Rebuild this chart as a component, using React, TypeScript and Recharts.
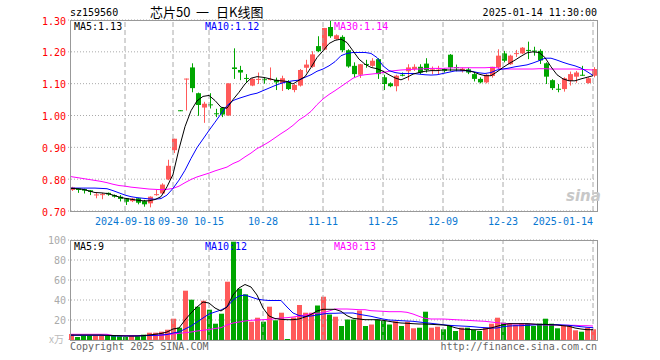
import { ComposedChart, Bar, Line, XAxis, YAxis, CartesianGrid, ReferenceLine, Cell } from "recharts";

const dates = [
  "2024-09-03", "2024-09-04", "2024-09-05", "2024-09-06", "2024-09-09", "2024-09-10", "2024-09-11", "2024-09-12", "2024-09-13",
  "2024-09-18", "2024-09-19", "2024-09-20", "2024-09-23", "2024-09-24", "2024-09-25", "2024-09-26", "2024-09-27", "2024-09-30",
  "2024-10-08", "2024-10-09", "2024-10-10", "2024-10-11", "2024-10-14", "2024-10-15",
  "2024-10-16", "2024-10-17", "2024-10-18", "2024-10-21", "2024-10-22", "2024-10-23", "2024-10-24", "2024-10-25", "2024-10-28",
  "2024-10-29", "2024-10-30", "2024-10-31", "2024-11-01", "2024-11-04", "2024-11-05", "2024-11-06", "2024-11-07", "2024-11-08", "2024-11-11",
  "2024-11-12", "2024-11-13", "2024-11-14", "2024-11-15", "2024-11-18", "2024-11-19", "2024-11-20", "2024-11-21", "2024-11-22", "2024-11-25",
  "2024-11-26", "2024-11-27", "2024-11-28", "2024-11-29", "2024-12-02", "2024-12-03", "2024-12-04", "2024-12-05", "2024-12-06", "2024-12-09",
  "2024-12-10", "2024-12-11", "2024-12-12", "2024-12-13", "2024-12-16", "2024-12-17", "2024-12-18", "2024-12-19", "2024-12-20", "2024-12-23",
  "2024-12-24", "2024-12-25", "2024-12-26", "2024-12-27", "2024-12-30", "2024-12-31", "2025-01-02", "2025-01-03", "2025-01-06", "2025-01-07",
  "2025-01-08", "2025-01-09", "2025-01-10", "2025-01-13", "2025-01-14",
];

const tickDates = ["2024-09-18", "2024-09-30", "2024-10-15", "2024-10-28", "2024-11-11", "2024-11-25", "2024-12-09", "2024-12-23", "2025-01-14"];
const priceTicks = [0.7, 0.8, 0.9, 1.0, 1.1, 1.2, 1.3];
const volTicks = [20, 40, 60, 80, 100];

const openPx = [
  0.766, 0.771, 0.769, 0.765, 0.751, 0.752, 0.757, 0.750, 0.745, 0.740,
  0.731, 0.740, 0.731, 0.724, 0.752, 0.755, 0.799, 0.891, 1.0165, 1.114,
  1.151, 1.070, 1.025, 1.035, 1.007, 1.024, 1.000, 1.151, 1.143, 1.118,
  1.094, 1.114, 1.114, 1.114, 1.112, 1.102, 1.106, 1.080, 1.094, 1.150,
  1.153, 1.218, 1.207, 1.278, 1.240, 1.247, 1.205, 1.156, 1.128, 1.162,
  1.156, 1.177, 1.120, 1.101, 1.092, 1.128, 1.139, 1.146, 1.153, 1.163,
  1.146, 1.145, 1.146, 1.191, 1.152, 1.140, 1.145, 1.130, 1.115, 1.104,
  1.124, 1.151, 1.195, 1.161, 1.195, 1.195, 1.206, 1.204, 1.203, 1.164,
  1.111, 1.084, 1.083, 1.109, 1.122, 1.128, 1.102, 1.125,
];
const closePx = [
  0.774, 0.766, 0.764, 0.760, 0.752, 0.753, 0.752, 0.745, 0.738, 0.729,
  0.739, 0.726, 0.721, 0.745, 0.753, 0.783, 0.842, 0.927, 1.016, 1.116,
  1.086, 1.033, 1.037, 1.033, 1.005, 1.003, 1.101, 1.146, 1.135, 1.117,
  1.115, 1.115, 1.113, 1.115, 1.104, 1.117, 1.083, 1.096, 1.143, 1.160,
  1.192, 1.202, 1.275, 1.249, 1.252, 1.205, 1.154, 1.130, 1.161, 1.161,
  1.172, 1.130, 1.099, 1.092, 1.125, 1.127, 1.151, 1.153, 1.135, 1.143,
  1.147, 1.149, 1.140, 1.151, 1.151, 1.147, 1.135, 1.115, 1.104, 1.128,
  1.153, 1.188, 1.172, 1.188, 1.196, 1.213, 1.205, 1.203, 1.173, 1.122,
  1.086, 1.083, 1.117, 1.130, 1.135, 1.127, 1.117, 1.146,
];
const highPx = [
  0.776, 0.772, 0.770, 0.766, 0.757, 0.757, 0.758, 0.752, 0.750, 0.741,
  0.741, 0.741, 0.735, 0.746, 0.766, 0.787, 0.861, 0.927, 1.017, 1.116,
  1.164, 1.072, 1.043, 1.070, 1.021, 1.026, 1.101, 1.211, 1.156, 1.130,
  1.117, 1.135, 1.120, 1.151, 1.119, 1.125, 1.111, 1.099, 1.146, 1.175,
  1.202, 1.249, 1.275, 1.301, 1.255, 1.252, 1.208, 1.167, 1.162, 1.175,
  1.180, 1.180, 1.128, 1.104, 1.128, 1.135, 1.161, 1.161, 1.161, 1.180,
  1.154, 1.156, 1.148, 1.193, 1.160, 1.150, 1.150, 1.135, 1.120, 1.130,
  1.153, 1.208, 1.203, 1.191, 1.206, 1.215, 1.232, 1.216, 1.208, 1.167,
  1.114, 1.099, 1.120, 1.138, 1.140, 1.156, 1.120, 1.152,
];
const lowPx = [
  0.763, 0.757, 0.755, 0.750, 0.740, 0.737, 0.748, 0.742, 0.730, 0.719,
  0.728, 0.721, 0.7135, 0.7115, 0.748, 0.753, 0.797, 0.882, 1.016, 1.0156,
  1.073, 0.999, 0.977, 1.022, 0.995, 0.995, 0.999, 1.115, 1.111, 1.104,
  1.092, 1.099, 1.100, 1.110, 1.080, 1.077, 1.080, 1.073, 1.091, 1.135,
  1.150, 1.199, 1.205, 1.244, 1.238, 1.199, 1.150, 1.120, 1.118, 1.150,
  1.153, 1.115, 1.080, 1.089, 1.076, 1.123, 1.110, 1.140, 1.130, 1.135,
  1.130, 1.130, 1.135, 1.139, 1.139, 1.135, 1.130, 1.107, 1.101, 1.101,
  1.119, 1.146, 1.167, 1.159, 1.184, 1.193, 1.177, 1.188, 1.162, 1.099,
  1.080, 1.073, 1.075, 1.094, 1.103, 1.125, 1.100, 1.120,
];

const ma5 = [
  0.771, 0.770, 0.768, 0.763, 0.758, 0.757, 0.755, 0.750, 0.744, 0.740,
  0.737, 0.734, 0.732, 0.732, 0.736, 0.745, 0.776, 0.815, 0.895, 0.965,
  1.015, 1.046, 1.060, 1.063, 1.047, 1.026, 1.023, 1.050, 1.073, 1.099,
  1.117, 1.122, 1.120, 1.116, 1.111, 1.109, 1.107, 1.099, 1.111, 1.122,
  1.151, 1.182, 1.203, 1.226, 1.236, 1.240, 1.229, 1.203, 1.177, 1.161,
  1.151, 1.147, 1.139, 1.128, 1.118, 1.112, 1.120, 1.130, 1.135, 1.139,
  1.141, 1.141, 1.143, 1.143, 1.143, 1.143, 1.141, 1.137, 1.130, 1.125,
  1.125, 1.137, 1.151, 1.163, 1.174, 1.186, 1.197, 1.200, 1.198, 1.182,
  1.153, 1.128, 1.115, 1.109, 1.109, 1.115, 1.120, 1.125,
];
const ma10 = [
  0.772, 0.772, 0.772, 0.772, 0.772, 0.771, 0.770, 0.764, 0.757, 0.750,
  0.745, 0.742, 0.740, 0.738, 0.737, 0.739, 0.750, 0.771, 0.797, 0.828,
  0.865, 0.899, 0.926, 0.953, 0.979, 1.005, 1.031, 1.047, 1.054, 1.060,
  1.066, 1.070, 1.078, 1.086, 1.094, 1.101, 1.106, 1.109, 1.111, 1.120,
  1.128, 1.139, 1.146, 1.156, 1.169, 1.188, 1.195, 1.198, 1.198, 1.198,
  1.195, 1.182, 1.156, 1.141, 1.135, 1.132, 1.132, 1.132, 1.130, 1.128,
  1.127, 1.128, 1.132, 1.136, 1.140, 1.140, 1.141, 1.138, 1.134, 1.132,
  1.135, 1.143, 1.146, 1.149, 1.153, 1.156, 1.159, 1.165, 1.172, 1.180,
  1.180, 1.174, 1.167, 1.161, 1.156, 1.149, 1.138, 1.126,
];
const ma30 = [
  0.808, 0.805, 0.802, 0.799, 0.796, 0.793, 0.789, 0.784, 0.780, 0.778,
  0.775, 0.773, 0.771, 0.769, 0.768, 0.767, 0.768, 0.771, 0.778, 0.789,
  0.799, 0.807, 0.813, 0.819, 0.826, 0.832, 0.838, 0.849, 0.857, 0.870,
  0.882, 0.896, 0.906, 0.917, 0.930, 0.943, 0.955, 0.969, 0.986, 0.998,
  1.013, 1.034, 1.052, 1.066, 1.078, 1.091, 1.104, 1.117, 1.125, 1.128,
  1.130, 1.132, 1.135, 1.139, 1.141, 1.143, 1.144, 1.145, 1.146, 1.147,
  1.148, 1.148, 1.148, 1.149, 1.150, 1.150, 1.150, 1.150, 1.150, 1.150,
  1.151, 1.150, 1.146, 1.146, 1.146, 1.146, 1.146, 1.146, 1.147, 1.147,
  1.146, 1.146, 1.146, 1.146, 1.146, 1.145, 1.144, 1.143,
];

const volume = [
  6, 3, 4.3, 4.3, 4.3, 4.3, 4.3, 4.3, 3.7, 3,
  5, 3.7, 5.3, 7.3, 7.3, 8.3, 10.3, 21.3, 12.3, 49.3,
  40.3, 33.3, 39.3, 30.3, 16.3, 26.3, 58.3, 98.3, 51.3, 45.7,
  18.3, 22.3, 18.3, 33.3, 19.7, 27.3, 1, 22.5, 35, 27.3,
  27.3, 34.5, 43.3, 25.5, 23.3, 14, 20.5, 20.5, 29.5, 14,
  15.5, 20.5, 19, 15.5, 18.7, 14, 18.3, 11.7, 12.3, 28.3,
  12.3, 13.3, 10.7, 15, 9, 12.3, 12.3, 10, 9, 12.3,
  16.3, 22.3, 17.3, 16.3, 15, 16.3, 16.3, 14, 16.3, 21.3,
  16.3, 11.7, 14, 14, 9.7, 8.3, 12.3, 10.7,
];
const volMa5 = [
  5, 5, 5, 5, 5, 5, 4.7, 4.5, 4.3, 4,
  4, 4, 4.3, 5, 5.7, 6.5, 8, 11, 12, 20,
  27, 33, 38, 37, 32, 29, 33, 45, 52, 55.5,
  53, 45, 32, 24, 21.5, 20.7, 20.3, 20.3, 21, 23,
  25.5, 29, 30.7, 30.7, 30.7, 28.7, 24.3, 21.7, 21, 20.3,
  20.3, 20.3, 19.7, 18.7, 17.7, 17, 16.7, 16.3, 16, 16,
  15.7, 15.3, 15, 14.3, 12.3, 11, 10.7, 10.3, 10.3, 11,
  12, 13.7, 15.3, 16.3, 16.3, 16.3, 16.3, 16, 15.7, 15.7,
  15.3, 15, 14.3, 13.7, 12, 11, 10.3, 10.3,
];
const volMa10 = [
  4.7, 4.7, 4.7, 4.7, 4.7, 4.7, 4.7, 4, 4, 4,
  4, 4, 4.3, 4.5, 4.7, 5, 5.5, 7, 8, 11,
  14, 18, 22, 26, 28, 30, 33, 40, 44, 45,
  43, 41, 40, 39.5, 39.5, 39.5, 33, 27, 24.5, 23.5,
  24, 25, 26, 26.7, 26.7, 27, 27, 27, 25.7, 24.7,
  23.7, 22.3, 21, 20, 19.7, 19.3, 19, 18.7, 18, 17.3,
  16.7, 16, 15.3, 14.7, 14.3, 14, 13.7, 13.3, 12.7, 12.3,
  12, 12, 13.3, 14, 14.3, 14.3, 14.7, 15, 15.3, 15.3,
  15.3, 15.3, 15, 14.7, 14, 13.3, 12.7, 12.3,
];
const volMa30 = [
  5.7, 5.7, 5.7, 5.7, 5.7, 5.7, 5.7, 4.5, 4.5, 4.5,
  4.5, 4.5, 4.5, 4.5, 4.5, 4.7, 5.3, 6, 6.7, 7.3,
  8, 9, 9.7, 10.5, 11.5, 12.3, 15, 17, 18, 19,
  19.7, 20, 20.3, 20.7, 21.3, 22, 22.3, 23, 24, 25,
  26.3, 26.7, 27.3, 29, 31, 31, 31, 30.7, 30.3, 30.3,
  29.3, 29, 28.7, 28.3, 28.3, 28.3, 27.7, 26, 23.7, 21.7,
  21, 21, 21, 20.7, 20.3, 20, 19.7, 19.3, 19, 18.7,
  18, 17.3, 16.7, 16.3, 16, 16, 16, 15.7, 15.3, 15,
  15, 15, 14.7, 14.7, 14.7, 14.3, 14.3, 14,
];

const RED = "#ff5a5a";
const GREEN = "#00a600";
const MONO = "DejaVu Sans Mono, monospace";
const CJK = "Noto Sans CJK SC, sans-serif";

const rows = dates.map((date, i) => ({
  date,
  open: openPx[i],
  close: closePx[i],
  high: highPx[i],
  low: lowPx[i],
  range: [lowPx[i], highPx[i]],
  ma5: ma5[i],
  ma10: ma10[i],
  ma30: ma30[i],
  vol: volume[i],
  vma5: volMa5[i],
  vma10: volMa10[i],
  vma30: volMa30[i],
}));

// candle drawn inside the low..high range bar
const Candle = (props: any) => {
  const { x, y, width, height, index } = props;
  const d = rows[index];
  const top = Math.min(y, y + height);
  const h = Math.abs(height);
  const span = d.high - d.low;
  const toY = (v: number) => (span > 0 ? top + ((d.high - v) / span) * h : top);
  const color = d.close >= d.open ? RED : GREEN;
  const cx = Math.round(x + width / 2);
  const yo = toY(d.open);
  const yc = toY(d.close);
  return (
    <g>
      <rect x={cx} y={top} width={1} height={Math.max(h, 1)} fill={color} />
      <rect x={cx - 2} y={Math.min(yo, yc)} width={5} height={Math.max(1, Math.abs(yo - yc))} fill={color} />
    </g>
  );
};

const DateTick = (props: any) => {
  const { x, payload } = props;
  const v: string = payload.value;
  const first = v === tickDates[0];
  const last = v === tickDates[tickDates.length - 1];
  const label = first || last ? v : v.slice(5);
  return (
    <text x={last ? x : x} y={225} textAnchor={last ? "end" : "middle"} fill="#0a78d2" fontSize={10} fontFamily={MONO}>
      {label}
    </text>
  );
};

const PriceTick = (props: any) => {
  const { y, payload } = props;
  return (
    <text x={66} y={y + 4.5} textAnchor="end" fill="#ff0000" fontSize={10} fontFamily={MONO}>
      {Number(payload.value).toFixed(2)}
    </text>
  );
};

const VolTick = (props: any) => {
  const { y, payload } = props;
  return (
    <text x={66} y={y + 4} textAnchor="end" fill="#aaaaaa" fontSize={10} fontFamily={MONO}>
      {payload.value}
    </text>
  );
};

export default function App() {
  return (
    <div style={{ position: "absolute", left: 0, top: 0, width: 660, height: 360, background: "#fff", overflow: "hidden" }}>
      <div style={{ position: "absolute", left: 0, top: 0 }}>
        <ComposedChart width={660} height={232} data={rows} margin={{ top: 20, right: 64, bottom: 0, left: 0 }}>
          <CartesianGrid vertical={false} stroke="#aaaaaa" strokeDasharray="1 2" />
          {tickDates.map((t) => (
            <ReferenceLine key={t} x={t} stroke="#aaaaaa" strokeDasharray="5 3" />
          ))}
          <XAxis dataKey="date" type="category" ticks={tickDates} interval={0} tick={<DateTick />} tickLine={false} axisLine={false} height={21} />
          <YAxis
            domain={[0.7, 1.3]}
            ticks={priceTicks}
            interval={0}
            tick={<PriceTick />}
            tickLine={false}
            axisLine={false}
            width={68}
            allowDataOverflow
          />
          <Bar dataKey="range" barSize={5} shape={<Candle />} isAnimationActive={false} />
          <Line dataKey="ma30" stroke="#ff00ff" strokeWidth={1} dot={false} isAnimationActive={false} type="linear" />
          <Line dataKey="ma10" stroke="#0000ff" strokeWidth={1} dot={false} isAnimationActive={false} type="linear" />
          <Line dataKey="ma5" stroke="#000000" strokeWidth={1} dot={false} isAnimationActive={false} type="linear" />
        </ComposedChart>
      </div>
      <div style={{ position: "absolute", left: 0, top: 230 }}>
        <ComposedChart width={660} height={110} data={rows} margin={{ top: 10, right: 64, bottom: 0, left: 0 }}>
          <CartesianGrid vertical={false} stroke="#aaaaaa" strokeDasharray="1 2" />
          {tickDates.map((t) => (
            <ReferenceLine key={t} x={t} stroke="#aaaaaa" strokeDasharray="5 3" />
          ))}
          <XAxis dataKey="date" type="category" hide height={0} />
          <YAxis domain={[0, 100]} ticks={volTicks} interval={0} tick={<VolTick />} tickLine={false} axisLine={false} width={68} />
          <Bar dataKey="vol" barSize={5} isAnimationActive={false}>
            {rows.map((d, i) => (
              <Cell key={i} fill={d.close >= d.open ? RED : GREEN} />
            ))}
          </Bar>
          <Line dataKey="vma30" stroke="#ff00ff" strokeWidth={1} dot={false} isAnimationActive={false} type="linear" />
          <Line dataKey="vma10" stroke="#0000ff" strokeWidth={1} dot={false} isAnimationActive={false} type="linear" />
          <Line dataKey="vma5" stroke="#000000" strokeWidth={1} dot={false} isAnimationActive={false} type="linear" />
        </ComposedChart>
      </div>
      <svg width={660} height={360} style={{ position: "absolute", left: 0, top: 0, pointerEvents: "none" }}>
        <rect x={70.5} y={20.5} width={527} height={191} fill="none" stroke="#999999" />
        <rect x={70.5} y={240.5} width={527} height={100} fill="none" stroke="#999999" />
        <text x={70} y={16} fontSize={10} fontFamily={MONO} fill="#000">sz159560</text>
        <text x={150} y={17} fontSize={13} fontFamily={CJK} fill="#000">芯片50</text>
        <text x={196} y={17} fontSize={13} fontFamily={CJK} fill="#000">一</text>
        <text x={216} y={17} fontSize={13} fontFamily={CJK} fill="#000">日K线图</text>
        <text x={597} y={16} fontSize={10} textAnchor="end" fontFamily={MONO} fill="#000">2025-01-14 11:30:00</text>
        <text x={74} y={30} fontSize={10} fontFamily={MONO} fill="#000">MA5:1.13</text>
        <text x={205} y={30} fontSize={10} fontFamily={MONO} fill="#0000ff">MA10:1.12</text>
        <text x={334} y={30} fontSize={10} fontFamily={MONO} fill="#ff00ff">MA30:1.14</text>
        <text x={74} y={250} fontSize={10} fontFamily={MONO} fill="#000">MA5:9</text>
        <text x={205} y={250} fontSize={10} fontFamily={MONO} fill="#0000ff">MA10:12</text>
        <text x={334} y={250} fontSize={10} fontFamily={MONO} fill="#ff00ff">MA30:13</text>
        <text x={49} y={343} fontSize={10} fontFamily={CJK} fill="#bbbbbb">x万</text>
        <text x={70} y={350} fontSize={10} fontFamily={MONO} fill="#666666">Copyright 2025 SINA.COM</text>
        <text x={597} y={350} fontSize={10} textAnchor="end" fontFamily={MONO} fill="#666666">http://finance.sina.com.cn</text>
        <text x={566} y={201} fontSize={15} fontStyle="italic" fontWeight="bold" fontFamily="DejaVu Sans, sans-serif" fill="#c8c8c8">sina</text>
      </svg>
    </div>
  );
}
